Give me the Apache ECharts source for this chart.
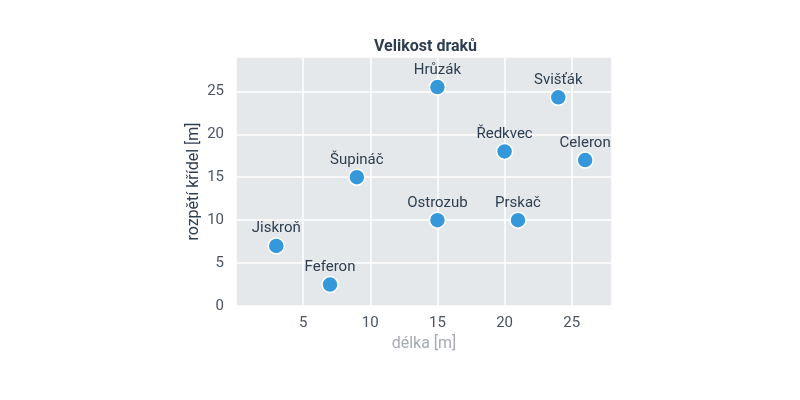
<!DOCTYPE html>
<html style="height: 100%">
<head>
    <meta charset="utf-8">
    <title>Velikost draků</title>
    <script src="https://cdn.jsdelivr.net/npm/echarts@6/dist/echarts.min.js"></script>
</head>
<body style="height: 100%; margin: 0; background: #fff">
    <div id="container" style="width: 800px; height: 400px"></div>
    <script type="text/javascript">
        // dragons: name, length [m], wingspan [m]
        const names = ['Jiskroň', 'Feferon', 'Šupináč', 'Hrůzák', 'Ostrozub', 'Ředkvec', 'Prskač', 'Svišťák', 'Celeron'];
        const lengths = [3, 7, 9, 15, 15, 20, 21, 24, 26];
        const wingspans = [7, 2.5, 15, 25.5, 10, 18, 10, 24.3, 17];

        const points = names.map((n, i) => ({ name: n, value: [lengths[i], wingspans[i]] }));

        const chart = echarts.init(document.getElementById('container'));
        chart.setOption({
            textStyle: { fontFamily: 'Roboto' },
            title: {
                text: 'Velikost draků',
                left: 369,
                top: 34,
                textStyle: { fontSize: 16, fontWeight: 'bold', color: '#2c3e50', fontFamily: 'Roboto' }
            },
            grid: {
                left: 236, right: 188, top: 57, bottom: 94,
                show: true, backgroundColor: '#e5e8ea', borderWidth: 0
            },
            xAxis: {
                type: 'value',
                min: 0, max: 28, interval: 5,
                name: 'délka [m]',
                nameLocation: 'middle',
                nameGap: 30,
                nameTextStyle: { color: '#a3abb3', fontSize: 16 },
                axisLine: { show: false },
                axisTick: { show: false },
                axisLabel: { showMinLabel: false, showMaxLabel: false, color: '#4a5460', fontSize: 15, margin: 10 },
                splitLine: { lineStyle: { color: '#ffffff', width: 1.5 } }
            },
            yAxis: {
                type: 'value',
                min: 0, max: 29, interval: 5,
                name: 'rozpětí křídel [m]',
                nameLocation: 'middle',
                nameGap: 34,
                nameTextStyle: { color: '#2c3e50', fontSize: 16 },
                axisLine: { show: false },
                axisTick: { show: false },
                axisLabel: { showMaxLabel: false, color: '#4a5460', fontSize: 15, margin: 12 },
                splitLine: { lineStyle: { color: '#ffffff', width: 1.5 } }
            },
            series: [{
                type: 'scatter',
                data: points,
                symbolSize: 16,
                itemStyle: { color: '#3498db', borderColor: '#ffffff', borderWidth: 1.5, opacity: 1 },
                label: {
                    show: true,
                    position: 'top',
                    distance: 1,
                    formatter: '{b}',
                    color: '#2c3e50',
                    fontSize: 15
                }
            }]
        });
    </script>
</body>
</html>
